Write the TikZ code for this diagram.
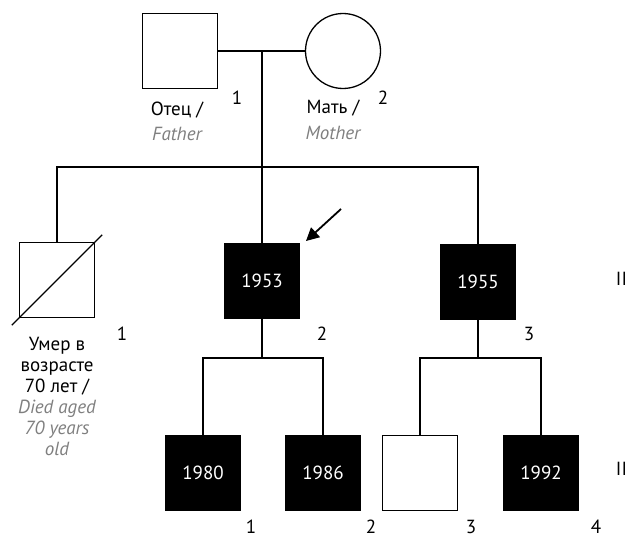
\documentclass[tikz,border=0pt]{standalone}
\usepackage{fontspec}
\setmainfont{PT Sans}
\usetikzlibrary{arrows.meta}
\definecolor{ink}{HTML}{000000}
\definecolor{note}{HTML}{7F7F7F}

\begin{document}
\begin{tikzpicture}[x=1pt,y=-1pt,font=\fontsize{19}{21}\selectfont,text=ink,
  line width=1.3pt,>=Triangle,
  male/.style={draw=ink,rectangle,minimum size=75pt,inner sep=0pt},
  female/.style={draw=ink,circle,minimum size=75pt,inner sep=0pt},
  affected/.style={fill=ink,text=white},
  english/.style={note,font=\fontsize{19}{21}\selectfont\itshape},
  caption/.style={align=center,anchor=north,inner sep=0pt}]
  \useasboundingbox (0,0) rectangle (625,538);

  % Generation I: the parents.
  \node[male] (father) at (180,51) {};
  \node[female] (mother) at (343,51) {};
  \draw (father) -- (mother);
  \node at (237,98) {1};
  \node at (383,98) {2};
  \node at (177,110) {Отец /};
  \node[english] at (177,134) {Father};
  \node at (333,108) {Мать /};
  \node[english] at (333,133) {Mother};

  % Generation II: three sons.
  \node[male] (uncle) at (57,280) {};
  \node[male,affected] (proband) at (262,281) {1953};
  \node[male,affected] (brother) at (478,282) {1955};
  \draw[shorten <=-10pt,shorten >=-10pt] (uncle.south west) -- (uncle.north east);
  \coordinate (mate) at (262,51);
  \coordinate (sibA) at (262,167);
  \draw (mate) -- (sibA);
  \draw (uncle.north) |- (sibA) -| (brother.north);
  \draw (sibA) -- (proband.north);
  \coordinate (tail) at (341,209);
  \coordinate (tip) at (306,241);
  \draw[line width=1.8pt,-{Triangle[length=13pt,width=13pt]}] (tail) -- (tip);
  \node at (122,334) {1};
  \node at (322,334) {2};
  \node at (529,334) {3};
  \node[caption] at (57,337) {Умер в\\возрасте\\70 лет /};
  \node[caption,english] at (57,399) {Died aged\\70 years\\old};
  \node[anchor=west] at (612,279) {II};

  % Generation III: the grandchildren.
  \node[male,affected] (son1) at (203,473) {1980};
  \node[male,affected] (son2) at (323,473) {1986};
  \node[male] (son3) at (420,473) {};
  \node[male,affected] (son4) at (541,473) {1992};
  \coordinate (sibB) at (262,358);
  \coordinate (sibC) at (478,358);
  \draw (proband.south) -- (sibB);
  \draw (son1.north) |- (sibB) -| (son2.north);
  \draw (brother.south) -- (sibC);
  \draw (son3.north) |- (sibC) -| (son4.north);
  \node at (251,527) {1};
  \node at (371,527) {2};
  \node at (471,527) {3};
  \node at (596,527) {4};
  \node[anchor=west] at (612,469) {III};
\end{tikzpicture}
\end{document}
